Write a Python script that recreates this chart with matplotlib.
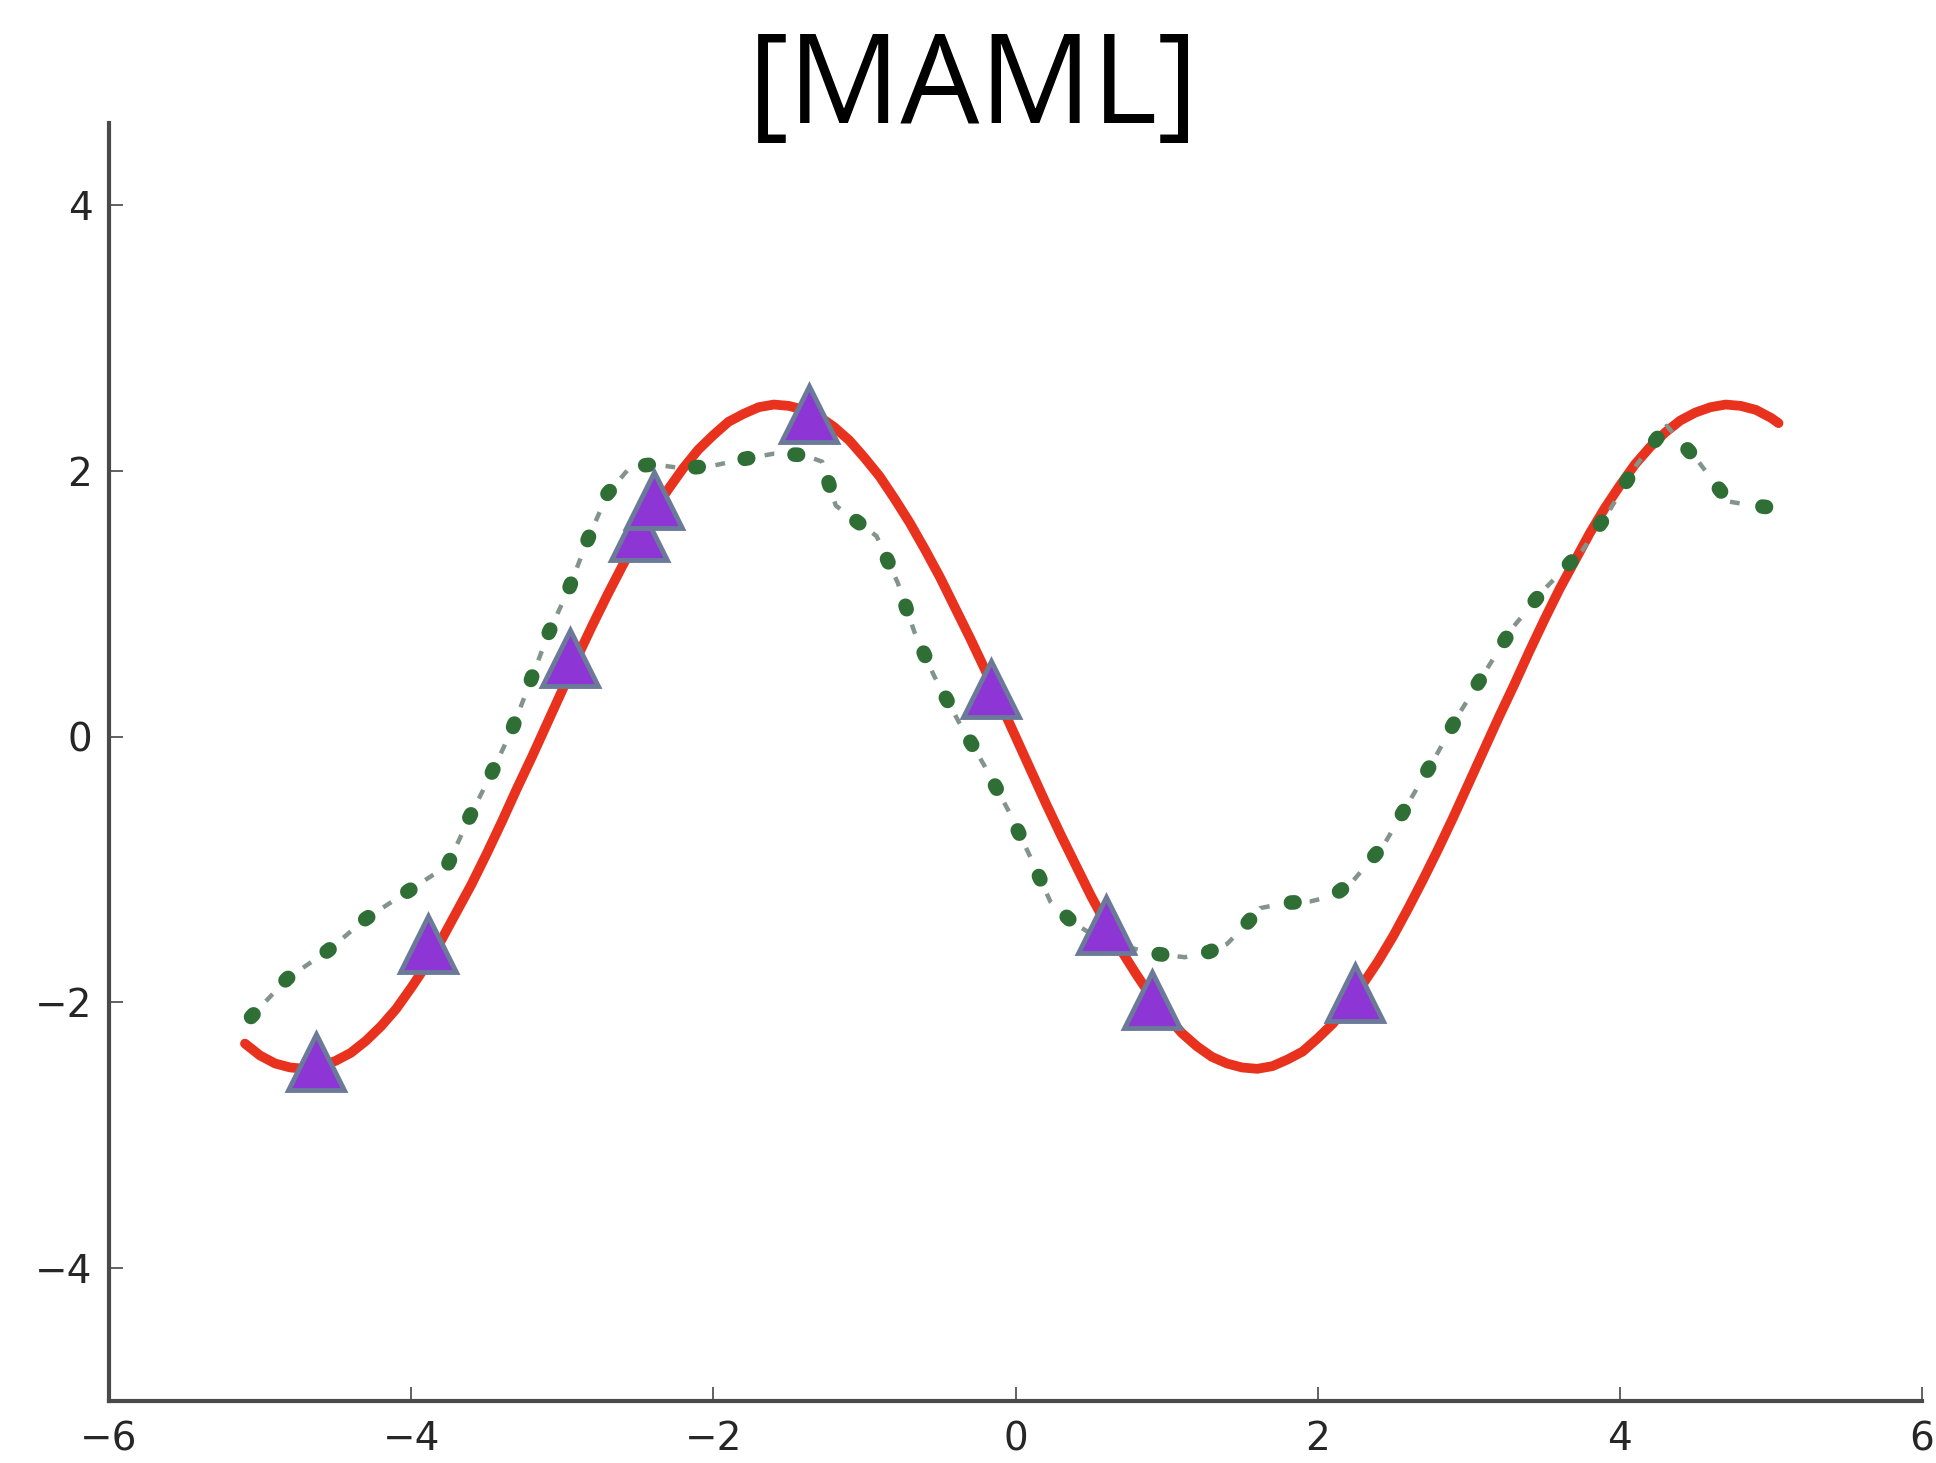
import matplotlib
matplotlib.use("Agg")
import matplotlib.pyplot as plt

# ---- data ----
title_text = "[MAML]"

red_x = [-5.1, -5.0, -4.9, -4.8, -4.7, -4.6, -4.5, -4.4, -4.3, -4.2, -4.1, -4.0, -3.9, -3.8,
         -3.7, -3.6, -3.5, -3.4, -3.3, -3.2, -3.1, -3.0, -2.9, -2.8, -2.7, -2.6, -2.5, -2.4,
         -2.3, -2.2, -2.1, -2.0, -1.9, -1.8, -1.7, -1.6, -1.5, -1.4, -1.3, -1.2, -1.1, -1.0,
         -0.9, -0.8, -0.7, -0.6, -0.5, -0.4, -0.3, -0.2, -0.1, 0.0,
         0.1, 0.2, 0.3, 0.4, 0.5, 0.6, 0.7, 0.8, 0.9, 1.0, 1.1, 1.2, 1.3, 1.4, 1.5, 1.6,
         1.7, 1.8, 1.9, 2.0, 2.1, 2.2, 2.3, 2.4, 2.5, 2.6, 2.7, 2.8, 2.9, 3.0, 3.1, 3.2,
         3.3, 3.4, 3.5, 3.6, 3.7, 3.8, 3.9, 4.0, 4.1, 4.2, 4.3, 4.4, 4.5, 4.6, 4.7, 4.8,
         4.9, 5.0, 5.05]
red_y = [-2.31, -2.40, -2.46, -2.49, -2.50, -2.48, -2.44, -2.38, -2.29, -2.18, -2.05, -1.89,
         -1.72, -1.53, -1.32, -1.11, -0.88, -0.64, -0.39, -0.15, 0.10, 0.35, 0.60, 0.84,
         1.07, 1.29, 1.50, 1.69, 1.86, 2.02, 2.16, 2.27, 2.37, 2.43, 2.48, 2.50, 2.49, 2.46,
         2.41, 2.33, 2.23, 2.10, 1.96, 1.79, 1.61, 1.41, 1.20, 0.97, 0.74, 0.50, 0.25, 0.00,
         -0.25, -0.50, -0.74, -0.97, -1.20, -1.41, -1.61, -1.79, -1.96, -2.10, -2.23, -2.33,
         -2.41, -2.46, -2.49, -2.50, -2.48, -2.43, -2.37, -2.27, -2.16, -2.02, -1.86, -1.69,
         -1.50, -1.29, -1.07, -0.84, -0.60, -0.35, -0.10, 0.15, 0.39, 0.64, 0.88, 1.11,
         1.32, 1.53, 1.72, 1.89, 2.05, 2.18, 2.29, 2.38, 2.44, 2.48, 2.50, 2.49, 2.46, 2.40,
         2.36]

green_x = [-5.06, -4.82, -4.55, -4.30, -4.03, -3.76, -3.62, -3.47, -3.33, -3.21, -3.09, -2.95,
           -2.84, -2.70, -2.55, -2.40, -2.20, -2.00, -1.80, -1.60, -1.40, -1.28, -1.19, -1.05,
           -0.92, -0.78, -0.67, -0.54, -0.37, -0.21, -0.05, 0.10, 0.23, 0.38, 0.51, 0.70,
           0.90, 1.12, 1.28, 1.40, 1.52, 1.62, 1.80, 1.95, 2.10, 2.23, 2.44, 2.61, 2.78,
           2.94, 3.12, 3.29, 3.50, 3.75, 3.93, 4.10, 4.31, 4.52, 4.72, 4.88, 5.04]
green_y = [-2.11, -1.82, -1.61, -1.37, -1.17, -0.97, -0.62, -0.28, 0.06, 0.42, 0.78, 1.13,
           1.46, 1.83, 2.03, 2.05, 2.02, 2.04, 2.09, 2.13, 2.12, 2.07, 1.74, 1.62,
           1.51, 1.16, 0.79, 0.46, 0.10, -0.21, -0.55, -0.91, -1.24, -1.40, -1.49, -1.57,
           -1.63, -1.66, -1.62, -1.56, -1.42, -1.29, -1.25, -1.24, -1.20, -1.09, -0.81, -0.48, -0.15,
           0.18, 0.51, 0.82, 1.11, 1.40, 1.70, 2.03, 2.34, 2.07, 1.77, 1.74, 1.72]

tri_x = [-4.63, -3.89, -2.95, -2.49, -2.39, -1.37, -0.16, 0.60, 0.90, 2.25]
tri_y = [-2.45, -1.56, 0.59, 1.54, 1.78, 2.43, 0.36, -1.42, -1.98, -1.93]

x_ticks = [-6, -4, -2, 0, 2, 4, 6]
y_ticks = [-4, -2, 0, 2, 4]

# ---- figure ----
fig = plt.figure(figsize=(19.36, 14.63), dpi=100)
ax = fig.add_axes([0.0563, 0.0424, 0.9365, 0.8736])

ax.plot(red_x, red_y, color="#e8321e", lw=7, solid_capstyle="round",
        solid_joinstyle="round", zorder=2)
# green dotted line (dots) with small grey dashes between the dots
ax.plot(green_x, green_y, color="#2f6e34", lw=10.5, linestyle=(0, (0.25, 3.2)),
        dash_capstyle="round", zorder=3)
ax.plot(green_x, green_y, color="#83948a", lw=3.2, linestyle=(6.4, (2.2, 9.1)),
        dash_capstyle="butt", zorder=3)
ax.plot(tri_x, tri_y, linestyle="none", marker="^", ms=41, mfc="#8e35d6",
        mec="#6b7a99", mew=3.5, zorder=4)

ax.set_xlim(-6, 6)
ax.set_ylim(-5, 4.62)
ax.set_xticks(x_ticks)
ax.set_yticks(y_ticks)
ax.set_xticklabels([str(v).replace("-", "\u2212") for v in x_ticks])
ax.set_yticklabels([str(v).replace("-", "\u2212") for v in y_ticks])

for s in ["top", "right"]:
    ax.spines[s].set_visible(False)
for s in ["left", "bottom"]:
    ax.spines[s].set_linewidth(3)
    ax.spines[s].set_color("#4a4a4a")

ax.tick_params(axis="both", direction="in", length=10, width=1.3, color="#555555",
               labelsize=28, labelcolor="#262626")
ax.tick_params(axis="x", pad=14)
ax.tick_params(axis="y", pad=12)
for lab in ax.get_xticklabels() + ax.get_yticklabels():
    lab.set_family("DejaVu Sans")

fig.text(0.503, 0.916, title_text, ha="center", va="baseline",
         fontsize=90, family=["Open Sans", "DejaVu Sans"], color="black")

fig.savefig("out.png", dpi=100, facecolor="white")
